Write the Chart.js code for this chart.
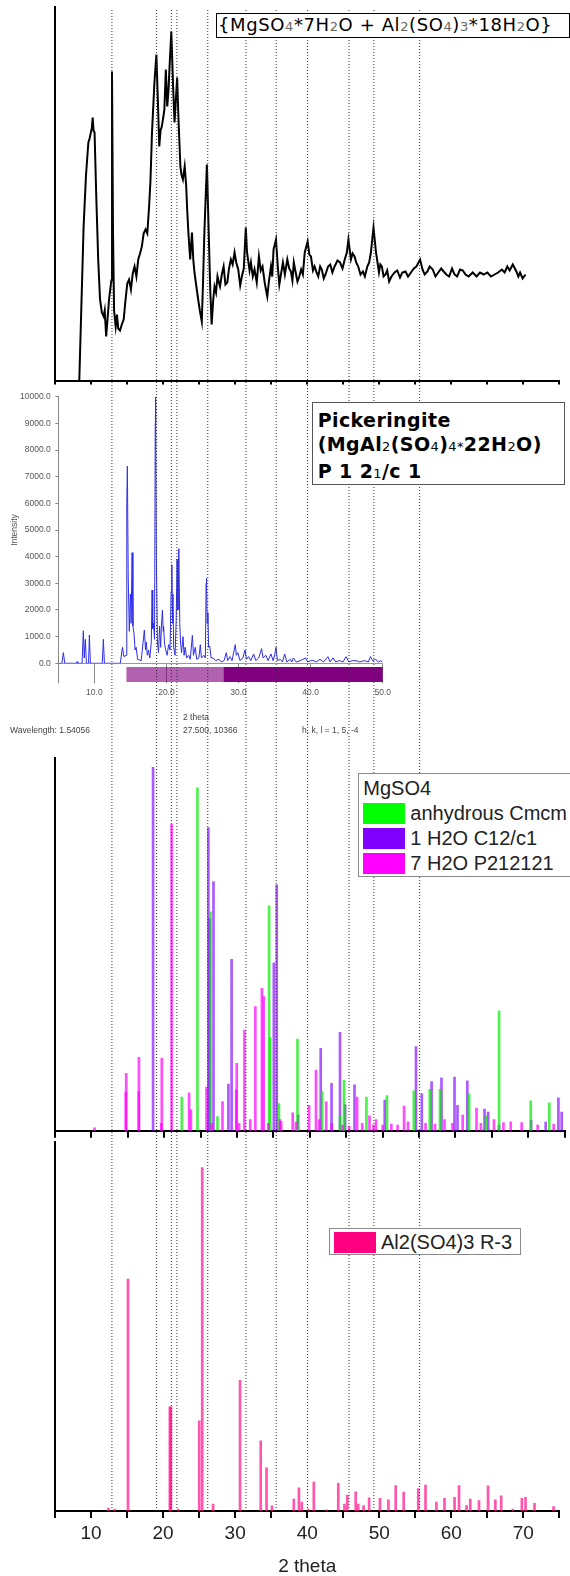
<!DOCTYPE html>
<html>
<head>
<meta charset="utf-8">
<script src="https://cdn.jsdelivr.net/npm/chart.js@4.4.1/dist/chart.umd.min.js"></script>
<style>
  body { margin: 0; background: #fff; }
  #page { position: relative; width: 570px; height: 1576px; overflow: hidden; font-family: "Liberation Sans", Arial, sans-serif; }
  canvas { position: absolute; left: 0; }
  .box { position: absolute; background: #fff; z-index: 3; white-space: nowrap; box-sizing: border-box; }
  .sub { font-size: 13px; color: #666; }
  .psub { font-size: 13px; font-weight: normal; }
  .small { position: absolute; font-size: 8.5px; color: #444; white-space: nowrap; }
  .leg { border: 1px solid #8a8a8a; font-size: 20px; color: #222; }
  .leg .row { position: absolute; left: 4px; height: 21px; }
  .leg .sw { position: absolute; left: 0; top: 0; width: 42px; height: 21px; }
  .leg .lab { position: absolute; left: 47px; top: -2px; line-height: 24px; }
</style>
</head>
<body>
<div id="page">
  <canvas id="c1" width="570" height="392" style="top:0"></canvas>
  <canvas id="c2" width="570" height="360" style="top:380px"></canvas>
  <canvas id="c3" width="570" height="400" style="top:740px"></canvas>
  <canvas id="c4" width="570" height="446" style="top:1130px"></canvas>
  <canvas id="ov" width="570" height="1576" style="top:0;z-index:2;pointer-events:none"></canvas>

  <div class="box" style="left:216px;top:12.5px;width:354px;height:25px;border:1.5px solid #000;font:18px 'DejaVu Sans';letter-spacing:0.6px;line-height:22px;padding-left:1px;">{MgSO<span class="sub">4</span>*7H<span class="sub">2</span>O + Al<span class="sub">2</span>(SO<span class="sub">4</span>)<span class="sub">3</span>*18H<span class="sub">2</span>O}</div>

  <div class="box" style="left:311.7px;top:401.7px;width:253px;height:83.5px;border:1px solid #555;font:bold 19px 'DejaVu Sans';letter-spacing:0.4px;line-height:24.3px;padding:5px 0 0 5px;">Pickeringite<br>(MgAl<span class="psub">2</span>(SO<span class="psub">4</span>)<span class="psub">4*</span>22H<span class="psub">2</span>O)<br>P 1 2<span class="psub">1</span>/c 1</div>

  <div class="small" style="left:183px;top:712px;">2 theta</div>
  <div class="small" style="left:183px;top:725px;">27.500, 10366</div>
  <div class="small" style="left:10px;top:725px;">Wavelength: 1.54056</div>
  <div class="small" style="left:302px;top:725px;">h, k, l = 1, 5, -4</div>

  <div id="leg3" class="box leg" style="left:358.3px;top:773.3px;width:230px;height:104px;"></div>
  <div id="leg4" class="box leg" style="left:329px;top:1228.3px;width:192px;height:27px;"></div>
</div>

<script>
// 2 theta of the marked reflections (dotted guides)
const guideLines = [12.9, 19.1, 21.15, 21.92, 26.2, 31.5, 35.7, 40.05, 45.8, 49.25, 55.6];

// measured sample {MgSO4*7H2O + Al2(SO4)3*18H2O}: [2 theta, counts]
const sampleScan = [
  [8.37,0],[8.97,154],[9.3,205],[9.63,238],[9.8,242],[9.98,248],[10.1,252],[10.23,263],[10.35,250],[10.49,248],
  [10.74,181],[11.0,120],[11.25,81],[11.5,68],[11.75,64],[11.9,70],[12.1,44],[12.3,62],[12.5,81],[12.82,100],
  [12.91,309],[13.05,148],[13.2,70],[13.42,54],[13.6,66],[13.77,52],[14.02,50],[14.27,56],[14.53,61],[14.78,80],
  [15.03,97],[15.28,101],[15.54,91],[15.79,107],[16.04,114],[16.3,104],[16.55,121],[16.8,127],[17.05,134],
  [17.3,147],[17.56,151],[17.81,147],[18.06,174],[18.25,200],[18.46,248],[18.8,298],[19.07,326],[19.27,281],
  [19.47,234],[19.65,250],[19.82,254],[20.0,262],[20.18,271],[20.38,311],[20.58,274],[20.75,290],[20.9,314],
  [21.14,349],[21.39,294],[21.59,258],[21.95,303],[22.14,261],[22.4,214],[22.55,206],[22.75,201],[23.0,214],
  [23.21,194],[23.35,170],[23.51,148],[23.76,121],[24.01,148],[24.2,120],[24.36,108],[24.6,95],[24.87,81],
  [25.1,70],[25.37,59],[25.55,100],[25.73,148],[26.08,216],[26.33,148],[26.55,90],[26.74,56],[26.95,80],
  [27.14,94],[27.35,88],[27.55,104],[27.75,98],[27.9,94],[28.15,106],[28.4,114],[28.65,96],[28.91,98],
  [29.15,112],[29.41,121],[29.65,116],[29.92,128],[30.15,118],[30.43,111],[30.7,95],[30.93,104],[31.2,112],
  [31.48,153],[31.65,128],[31.79,121],[32.0,110],[32.19,118],[32.45,104],[32.69,111],[33.0,98],[33.3,124],
  [33.55,110],[33.8,114],[34.1,98],[34.3,90],[34.46,84],[34.7,100],[34.97,114],[35.15,104],[35.33,131],
  [35.67,141],[35.92,114],[36.13,96],[36.4,108],[36.63,118],[36.9,106],[37.24,121],[37.5,112],[37.74,109],
  [37.95,100],[38.14,118],[38.4,108],[38.65,99],[38.9,104],[39.16,111],[39.4,106],[39.66,128],[40.06,139],
  [40.3,126],[40.52,124],[40.8,110],[41.02,114],[41.3,108],[41.53,104],[41.8,114],[42.03,111],[42.3,102],
  [42.54,106],[42.9,114],[43.2,116],[43.5,108],[43.8,114],[44.2,120],[44.56,118],[44.9,112],[45.21,121],
  [45.5,128],[45.72,141],[46.07,121],[46.3,127],[46.57,124],[46.8,118],[47.08,114],[47.4,106],[47.73,109],
  [48.0,104],[48.34,114],[48.6,118],[48.84,128],[49.2,153],[49.55,128],[49.96,108],[50.15,116],[50.36,114],
  [50.6,104],[50.87,106],[51.1,110],[51.37,99],[51.7,104],[52.12,108],[52.5,110],[52.88,103],[53.2,108],
  [53.64,109],[54.0,104],[54.4,108],[54.8,112],[55.16,114],[55.66,121],[56.0,111],[56.3,106],[56.68,109],
  [57.0,114],[57.42,111],[57.8,104],[58.19,108],[58.6,112],[58.94,109],[59.3,106],[59.7,104],[60.1,112],
  [60.45,106],[60.8,104],[61.21,111],[61.6,110],[61.97,106],[62.4,104],[62.97,108],[63.5,104],[63.98,108],
  [64.5,106],[65.0,108],[65.5,104],[66.0,106],[66.5,108],[67.01,111],[67.4,108],[67.77,114],[68.1,110],
  [68.53,116],[69.03,109],[69.3,104],[69.54,108],[69.9,102],[70.3,106]
];

// Pickeringite calculated pattern: [2 theta, intensity]
const pickPattern = [
  [5,0],[5.5,0],[5.7,400],[5.9,0],[7.5,0],[7.6,60],[7.7,0],[8.3,0],[8.47,1220],[8.6,200],[8.75,900],[8.9,0],
  [9.2,0],[9.31,1060],[9.45,0],[11.1,0],[11.25,900],[11.4,0],[13.6,0],[13.9,600],[14.1,250],[14.4,300],
  [14.5,6000],[14.58,7400],[14.7,3200],[14.85,1200],[15.0,2600],[15.1,1500],[15.24,4150],[15.35,1400],
  [15.51,1100],[15.65,500],[15.8,600],[16.0,150],[16.5,100],[16.94,1250],[17.1,500],[17.2,800],[17.35,300],
  [17.5,500],[17.7,200],[17.9,800],[18.01,2750],[18.1,1300],[18.2,1500],[18.35,900],[18.45,9000],[18.5,10000],
  [18.6,4000],[18.75,800],[18.9,400],[19.05,1400],[19.2,600],[19.3,1400],[19.45,2000],[19.55,1200],[19.6,1400],
  [19.75,700],[19.9,500],[20.1,300],[20.3,700],[20.5,500],[20.65,2700],[20.75,3700],[20.85,1500],[20.9,2600],
  [21.0,600],[21.2,300],[21.35,1600],[21.48,3900],[21.6,2000],[21.72,4300],[21.85,1500],[21.95,800],[22.1,400],
  [22.3,1000],[22.45,300],[22.6,600],[22.8,200],[23.1,300],[23.3,150],[23.6,1050],[23.75,300],[24.0,600],
  [24.2,150],[24.5,200],[24.7,700],[24.85,200],[25.2,300],[25.4,200],[25.5,3000],[25.56,3200],[25.65,1500],
  [25.75,1900],[25.85,600],[26.0,650],[26.2,200],[26.5,200],[26.8,100],[27.3,150],[27.6,50],[28.0,100],
  [28.3,400],[28.5,100],[28.8,250],[29.1,100],[29.4,500],[29.55,700],[29.7,300],[29.9,400],[30.2,100],
  [30.6,200],[30.9,500],[31.1,150],[31.4,250],[31.7,100],[32.1,350],[32.4,100],[32.8,200],[33.2,550],
  [33.4,200],[33.8,300],[34.1,100],[34.5,350],[34.8,100],[35.0,300],[35.2,600],[35.4,100],[35.8,150],
  [36.1,50],[36.4,350],[36.7,50],[37.2,150],[37.4,50],[37.6,200],[38.0,50],[38.6,100],[39.3,200],[39.6,50],
  [40.0,100],[40.4,100],[40.8,50],[41.3,150],[41.8,50],[42.4,250],[42.7,50],[43.1,200],[43.5,50],[44.0,100],
  [44.5,50],[44.9,250],[45.3,50],[45.8,100],[46.3,100],[46.8,50],[47.5,100],[48.0,50],[48.3,250],[48.6,100],
  [49.0,150],[49.4,50],[49.7,100],[50.0,50]
];
// Pickeringite reflection markers: single ticks and dense ranges (2 theta)
const pickHklSingle = [5.61, 7.36, 8.2, 8.67, 9.31, 10.93, 11.25, 11.8, 12.64, 13.11, 13.57, 14.03];
const pickHklLight = [[14.45, 27.9]];
const pickHklDense = [[27.9, 50.0]];

// MgSO4 reference sticks: [2 theta, relative intensity]
const mgso4Labels = ['anhydrous Cmcm', '1 H2O C12/c1', '7 H2O P212121'];
const mgso4Swatch = ['#00ff00', '#8000ff', '#ff00ff'];
const mgso4Anhydrous = [
  [22.42,9.0],[24.57,92.1],[26.36,58.8],[27.32,3.8],[34.41,60.4],[34.56,25],[35.76,7.3],[38.31,24.6],
  [41.7,10.5],[44.15,4],[44.7,13.6],[47.78,9.0],[50.6,9.4],[54.29,10.7],[56.48,11.1],[57.89,11.1],
  [61.89,9.9],[64.2,4],[66.0,32.2],[70.35,8],[72.9,7.5]
];
const mgso4Mono = [
  [18.47,97.6],[26.07,81.4],[26.25,57],[26.77,66.9],[28.82,12.5],[29.26,46.0],[35.06,45.1],[35.46,66.0],
  [38.4,4.2],[41.5,22.1],[42.99,12.7],[44.15,26.4],[44.85,7],[46.14,12.3],[50.29,8.2],[54.59,22.6],
  [55.38,10.0],[56.73,13.2],[58.09,14.2],[59.88,14.4],[60.29,6.8],[61.64,13.4],[64.0,5.8],[64.5,5],
  [66.0,1.5],[70.4,2.8],[72.4,2.3],[74.15,8.8],[74.6,5]
];
const mgso4Hepta = [
  [10.43,0.8],[14.72,10.4],[14.78,15.4],[16.5,10.5],[16.53,19.7],[19.6,2],[19.67,19.4],[21.02,82.3],
  [23.42,10.2],[23.67,5.6],[25.81,11.7],[26.5,2],[28.01,7.8],[29.9,11],[29.96,18.1],[30.3,2],[31.02,27.0],
  [31.82,3],[32.52,33.3],[33.42,38.2],[33.67,36.0],[34.3,2],[35.9,3],[36.06,2.5],[37.65,4.8],[38.1,2.3],
  [39.9,6.8],[40.85,16.3],[41.3,3],[42.25,7.8],[43.0,2],[44.5,1.5],[45.4,1.2],[46.5,9.0],[47.2,2],[48.2,4],
  [48.75,1.5],[49.1,3],[50.0,1.5],[51.2,1.8],[52.06,1.5],[52.95,6.6],[53.5,2.4],[55.9,2],[57.2,1.8],
  [58.5,3],[59.6,2],[61.0,4.2],[62.9,6.1],[63.5,2],[65.3,3],[66.6,2.2],[67.6,2.4],[69.1,2.2],[71.3,1.5],[73.5,1.8]
];

// Al2(SO4)3 R-3 reference sticks
const alsLabel = 'Al2(SO4)3 R-3';
const alsSwatch = '#ff0080';
const alsSticks = [
  [12.41,0.8],[13.26,0.5],[15.13,62.8],[20.94,28.2],[21.09,28.2],[22.1,0.5],[25.02,24.4],[25.43,93.0],
  [26.94,1.9],[30.68,35.4],[33.55,19.0],[34.36,11.7],[35.12,1.4],[38.14,3.2],[38.85,6.3],[39.25,2.4],
  [40.17,0.5],[40.92,7.8],[42.69,0.3],[44.31,7.5],[45.17,1.9],[45.57,4.3],[46.73,5.2],[47.08,1.9],
  [47.83,1.5],[48.59,3.6],[50.1,3.4],[51.27,3.0],[52.28,6.9],[53.39,5.1],[55.41,6.1],[56.42,7.0],
  [57.93,2.4],[59.05,3.4],[60.45,3.7],[61.07,6.9],[62.12,1.5],[62.63,3.2],[63.84,2.8],[65.1,6.8],
  [66.11,3.0],[66.92,4.1],[68.53,0.5],[69.79,3.4],[70.3,3.7],[71.55,2.1],[74.19,1.2]
];

const pts = arr => arr.map(p => ({x: p[0], y: p[1]}));
const noLegend = {legend: {display: false}, tooltip: {enabled: false}};

function leftAxis(max) {
  return {
    min: 0, max: max,
    ticks: {display: false},
    grid: {display: false},
    border: {color: '#000', width: 2},
    afterFit(s) { s.width = 0; }
  };
}

// panel 1: measured scan
new Chart(document.getElementById('c1'), {
  type: 'line',
  data: {datasets: [{data: pts(sampleScan), borderColor: '#000', borderWidth: 2, pointRadius: 0, tension: 0}]},
  options: {
    animation: false, responsive: false,
    layout: {padding: {left: 55, right: 10.6, top: 7, bottom: 0}},
    plugins: noLegend,
    scales: {
      x: {
        type: 'linear', min: 5, max: 75,
        ticks: {display: false, stepSize: 5},
        grid: {drawOnChartArea: false, tickLength: 4, color: '#000', lineWidth: 2},
        border: {color: '#000', width: 2},
        afterFit(s) { s.height = 11.5; }
      },
      y: leftAxis(373.5)
    }
  }
});

// panel 2: pickeringite calculated pattern
const bandRows = (ranges) => {
  const out = [];
  ranges.forEach(r => { out.push({x: r[0], y: -420}, {x: r[1], y: -420}, {x: r[1], y: null}); });
  return out;
};
new Chart(document.getElementById('c2'), {
  type: 'line',
  data: {datasets: [
    {data: pts(pickPattern), borderColor: '#2f2fe6', borderWidth: 1, pointRadius: 0, tension: 0},
    {data: bandRows(pickHklLight), borderColor: 'rgba(128,0,128,0.62)', borderWidth: 15, borderCapStyle: 'butt', pointRadius: 0, clip: false, spanGaps: false},
    {data: bandRows(pickHklDense), borderColor: '#800080', borderWidth: 15, borderCapStyle: 'butt', pointRadius: 0, clip: false, spanGaps: false},
    {data: pickHklSingle.map(v => ({x: v, y: -420})), showLine: false, pointStyle: 'line', rotation: 90, pointRadius: 7.5, pointBorderWidth: 1, pointBorderColor: '#b070b0', clip: false}
  ]},
  options: {
    animation: false, responsive: false,
    layout: {padding: {left: 0, right: 187.3, top: 16.7, bottom: 36.7}},
    plugins: noLegend,
    scales: {
      x: {
        type: 'linear', min: 5, max: 50,
        ticks: {stepSize: 10, padding: 4.6, color: '#555', font: {size: 8.5, family: 'Liberation Sans'},
                callback: v => (v % 10 === 0 ? v.toFixed(1) : '')},
        grid: {drawOnChartArea: false, tickLength: 20, color: '#888', lineWidth: 1},
        border: {color: '#999', width: 1},
        afterFit(s) { s.height = 40; }
      },
      y: {
        min: 0, max: 10000,
        ticks: {stepSize: 1000, padding: 4.6, color: '#555', font: {size: 8.5, family: 'Liberation Sans'},
                callback: v => v.toFixed(1)},
        grid: {drawOnChartArea: false, tickLength: 3, color: '#888'},
        border: {color: '#888', width: 1},
        title: {display: true, text: 'Intensity', color: '#555', font: {size: 8.5, family: 'Liberation Sans'}, padding: {top: 10, bottom: 0}},
        afterFit(s) { s.width = 58.3; }
      }
    }
  }
});

// panel 3: MgSO4 sticks
const stickSet = (arr, color) => ({data: pts(arr), backgroundColor: color, barThickness: 2, grouped: false});
new Chart(document.getElementById('c3'), {
  type: 'bar',
  data: {datasets: [
    stickSet(mgso4Hepta, 'rgba(255,0,255,0.7)'),
    stickSet(mgso4Anhydrous, 'rgba(0,235,0,0.7)'),
    stickSet(mgso4Mono, 'rgba(128,0,255,0.65)')
  ]},
  options: {
    animation: false, responsive: false,
    layout: {padding: {left: 55, right: 5.4, top: 18.3, bottom: 0}},
    plugins: noLegend,
    scales: {
      x: {
        type: 'linear', min: 5, max: 75, offset: false,
        ticks: {display: false, stepSize: 5},
        grid: {offset: false, drawOnChartArea: false, tickLength: 7, color: '#000', lineWidth: 2},
        border: {color: '#000', width: 2},
        afterFit(s) { s.height = 9.3; }
      },
      y: leftAxis(100)
    }
  }
});

// panel 4: Al2(SO4)3 sticks with the shared 2 theta axis
new Chart(document.getElementById('c4'), {
  type: 'bar',
  data: {datasets: [stickSet(alsSticks, 'rgba(255,20,140,0.72)')]},
  options: {
    animation: false, responsive: false,
    layout: {padding: {left: 55, right: 10.6, top: 11.7, bottom: 0}},
    plugins: noLegend,
    scales: {
      x: {
        type: 'linear', min: 5, max: 75, offset: false,
        ticks: {stepSize: 5, padding: 4, color: '#222', font: {size: 19, family: 'Liberation Sans'},
                callback: v => (v % 10 === 0 ? v : '')},
        grid: {offset: false, drawOnChartArea: false, tickLength: 7, color: '#000', lineWidth: 2},
        border: {color: '#000', width: 2},
        title: {display: true, text: '2 theta', color: '#222', font: {size: 19, family: 'Liberation Sans', lineHeight: 1}, padding: {top: 0, bottom: 0}},
        afterFit(s) { s.height = 65; }
      },
      y: leftAxis(100)
    }
  }
});

// overlay: dotted guide lines through all panels
new Chart(document.getElementById('ov'), {
  type: 'line',
  data: {datasets: guideLines.map(v => ({
    data: [{x: v, y: 0}, {x: v, y: 1}],
    borderColor: '#333', borderWidth: 1, borderDash: [1, 2], pointRadius: 0
  }))},
  options: {
    animation: false, responsive: false,
    layout: {padding: {left: 55, right: 10.6, top: 8, bottom: 65}},
    plugins: noLegend,
    scales: {
      x: {type: 'linear', min: 5, max: 75, display: false},
      y: {min: 0, max: 1, display: false}
    }
  }
});

// legends
function legendRow(box, top, color, text) {
  const row = document.createElement('div');
  row.className = 'row';
  row.style.top = top + 'px';
  row.innerHTML = '<div class="sw" style="background:' + color + '"></div><div class="lab">' + text + '</div>';
  box.appendChild(row);
}
const leg3 = document.getElementById('leg3');
const head = document.createElement('div');
head.style.cssText = 'position:absolute;left:4px;top:3px;line-height:22px;';
head.textContent = 'MgSO4';
leg3.appendChild(head);
mgso4Labels.forEach((t, i) => legendRow(leg3, 29 + i * 25, mgso4Swatch[i], t));
legendRow(document.getElementById('leg4'), 2.4, alsSwatch, alsLabel);
</script>
</body>
</html>
